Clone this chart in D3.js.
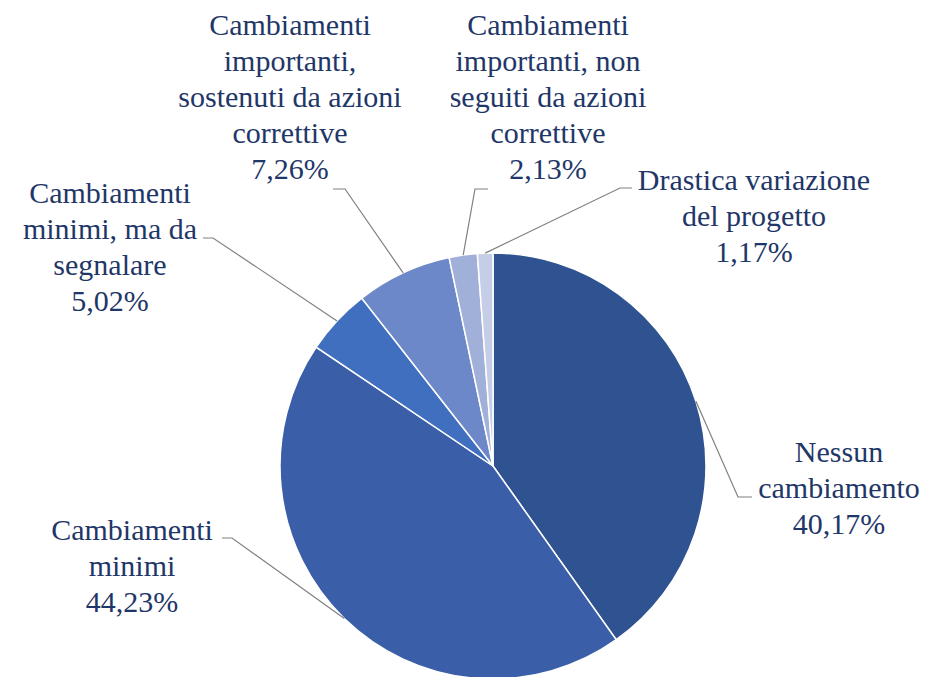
<!DOCTYPE html>
<html><head><meta charset="utf-8"><script src="https://cdn.jsdelivr.net/npm/d3@7"></script></head>
<body style="margin:0">
<script>
const width = 925;
const height = 677;

const categories = [
  "Nessun\ncambiamento",
  "Cambiamenti\nminimi",
  "Cambiamenti\nminimi, ma da\nsegnalare",
  "Cambiamenti\nimportanti,\nsostenuti da azioni\ncorrettive",
  "Cambiamenti\nimportanti, non\nseguiti da azioni\ncorrettive",
  "Drastica variazione\ndel progetto"
];
const values = [40.17, 44.23, 5.02, 7.26, 2.13, 1.17];
const colors = ["#2f5290", "#3a5fa8", "#416fbf", "#6d88c8", "#a1b0d8", "#c5cde7"];

// label placement: centre x, first baseline, leader start and elbow
const labelPos = [
  { x: 839, y: 462, lx: 752, ly: 497, ex: 738 },
  { x: 132, y: 540, lx: 222, ly: 538, ex: 232 },
  { x: 110, y: 203, lx: 203, ly: 238, ex: 213 },
  { x: 290, y: 35, lx: 333, ly: 189, ex: 345 },
  { x: 548, y: 35, lx: 488, ly: 189, ex: 475 },
  { x: 754, y: 190, lx: 632, ly: 188, ex: 620 }
];

const cx = 493, cy = 466, radius = 213;
const lineH = 36;
const fmt = (v) => v.toFixed(2).replace(".", ",") + "%";

const svg = d3.select("body").append("svg")
  .attr("width", width)
  .attr("height", height)
  .style("font-family", '"Liberation Serif"');

const pie = d3.pie().sort(null).value((d) => d.value);
const arc = d3.arc().innerRadius(0).outerRadius(radius);

const data = categories.map((c, i) => ({ name: c, value: values[i], i: i }));
const arcs = pie(data);

const g = svg.append("g").attr("transform", `translate(${cx},${cy})`);

g.selectAll("path")
  .data(arcs)
  .enter()
  .append("path")
  .attr("d", arc)
  .attr("fill", (d) => colors[d.data.i])
  .attr("stroke", "#fff")
  .attr("stroke-width", 1.5);

// leader lines
svg.selectAll("polyline")
  .data(arcs)
  .enter()
  .append("polyline")
  .attr("fill", "none")
  .attr("stroke", "#808080")
  .attr("stroke-width", 1.2)
  .attr("points", (d) => {
    const p = labelPos[d.data.i];
    const a = (d.startAngle + d.endAngle) / 2;
    const px = cx + radius * Math.sin(a);
    const py = cy - radius * Math.cos(a);
    return `${p.lx},${p.ly} ${p.ex},${p.ly} ${px},${py}`;
  });

// labels, one text element per line
const labelLines = [];
arcs.forEach((d) => {
  const p = labelPos[d.data.i];
  const lines = d.data.name.split("\n").concat([fmt(d.data.value)]);
  lines.forEach((l, k) => labelLines.push({ text: l, x: p.x, y: p.y + k * lineH }));
});

svg.selectAll("text")
  .data(labelLines)
  .enter()
  .append("text")
  .attr("x", (d) => d.x)
  .attr("y", (d) => d.y)
  .attr("text-anchor", "middle")
  .attr("fill", "#1f3768")
  .style("font-family", "Liberation Serif")
  .style("font-size", "30px")
  .text((d) => d.text);
</script></body></html>
